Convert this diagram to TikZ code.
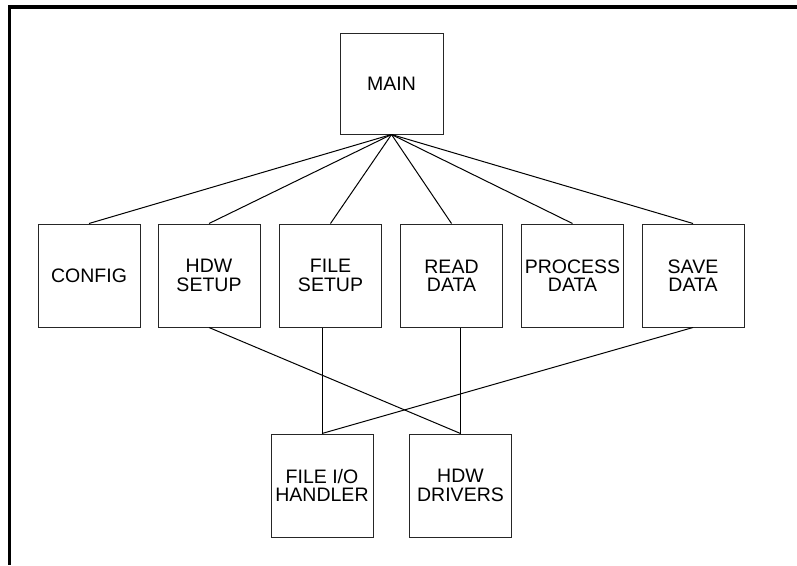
\documentclass[tikz,border=0pt]{standalone}
\usepackage{fontspec}
\setmainfont{Liberation Sans}
\begin{document}
\begin{tikzpicture}[x=1pt,y=-1pt,
  module/.style={draw=black!85, line width=1pt, inner sep=0pt,
    minimum width=102pt, minimum height=103pt, align=center,
    font=\fontsize{19.5}{18.3}\selectfont},
  link/.style={draw=black, line width=1pt}]
  \useasboundingbox (0,0) rectangle (797,565);
  % page frame: heavy top rule and left rule
  \fill[black] (8,5) rectangle (797,9);
  \fill[black] (8,5) rectangle (11,565);

  % top level
  \node[module, minimum width=103pt, minimum height=101pt] (main) at (391.5,83.5) {MAIN};

  % second level
  \node[module] (config)  at (89,275.5)    {CONFIG};
  \node[module] (hdwset)  at (209,275.5)   {HDW\\SETUP};
  \node[module] (fileset) at (330.5,275.5) {FILE\\SETUP};
  \node[module] (readd)   at (451.5,275.5) {READ\\DATA};
  \node[module] (procd)   at (572.5,275.5) {PROCESS\\DATA};
  \node[module] (saved)   at (693,275.5)   {SAVE\\DATA};

  % third level
  \node[module] (fileio) at (322,485.5)   {FILE I/O\\HANDLER};
  \node[module] (hdwdrv) at (460.5,485.5) {HDW\\DRIVERS};

  % calls from MAIN
  \foreach \m in {config,hdwset,fileset,readd,procd,saved}
    \draw[link] (main.south) -- (\m.north);

  % calls into the handlers
  \draw[link] (hdwset.south) -- (hdwdrv.north);
  \draw[link] (fileio.north |- fileset.south) -- (fileio.north);
  \draw[link] (hdwdrv.north |- readd.south) -- (hdwdrv.north);
  \draw[link] (saved.south) -- (fileio.north);
\end{tikzpicture}
\end{document}
